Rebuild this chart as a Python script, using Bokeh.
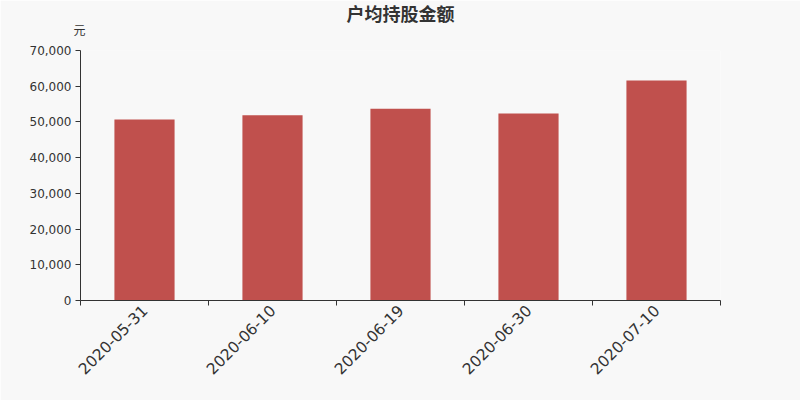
from math import pi
from bokeh.plotting import figure
from bokeh.models import (FactorRange, Range1d, LinearAxis, FixedTicker,
                          CustomJSTickFormatter, NumeralTickFormatter, Title,
                          ColumnDataSource)
from bokeh.embed import file_html
from bokeh.resources import INLINE

# ---- data ----
dates = ["2020-05-31", "2020-06-10", "2020-06-19", "2020-06-30", "2020-07-10"]
amounts = [50680, 51890, 53670, 52360, 61600]
y_ticks = [0, 10000, 20000, 30000, 40000, 50000, 60000, 70000]
title_text = "户均持股金额"
unit_text = "元"

BG = "#f8f8f8"
BAR = "#c0504d"
TXT = "#333333"
CJK = "Noto Sans CJK SC"
LAT = "DejaVu Sans"

src = ColumnDataSource(dict(date=dates, amount=amounts))

p = figure(width=800, height=400,
           x_range=FactorRange(factors=dates),
           y_range=Range1d(y_ticks[0], y_ticks[-1]),
           x_axis_type=None,
           output_backend="svg", toolbar_location=None,
           min_border_left=80, min_border_right=80,
           min_border_top=50, min_border_bottom=100)

p.background_fill_color = BG
p.border_fill_color = BG
p.outline_line_color = None
p.grid.visible = False

p.vbar(x="date", top="amount", width=0.47, source=src,
       fill_color=BAR, line_color=None)

# y axis
ya = p.yaxis[0]
ya.ticker = FixedTicker(ticks=y_ticks, minor_ticks=[])
ya.formatter = NumeralTickFormatter(format="0,0")
ya.axis_line_color = TXT
ya.major_tick_line_color = TXT
ya.major_tick_in = 0
ya.major_tick_out = 5
ya.minor_tick_line_color = None
ya.major_label_text_font = LAT
ya.major_label_text_font_size = "12px"
ya.major_label_text_color = TXT
ya.major_label_standoff = 4

# x axis: labels at category centres, tick marks at boundaries
n = len(dates)
xa = LinearAxis(
    ticker=FixedTicker(ticks=[i + 0.5 for i in range(n)],
                       minor_ticks=[float(i) for i in range(n + 1)]),
    formatter=CustomJSTickFormatter(args=dict(labels=dates),
                                    code="const i = Math.floor(tick); return labels[i] !== undefined ? labels[i] : '';"),
)
xa.axis_line_color = TXT
xa.major_tick_out = 0
xa.major_tick_in = 0
xa.minor_tick_line_color = TXT
xa.minor_tick_out = 5
xa.minor_tick_in = 0
xa.major_label_orientation = pi / 4
xa.major_label_text_font = LAT
xa.major_label_text_font_size = "15.5px"
xa.major_label_text_color = TXT
xa.major_label_standoff = 2
p.add_layout(xa, "below")

# main title (top) and unit (nearest the frame)
p.title = Title(text=title_text, align="center", standoff=-41,
                text_font=CJK, text_font_size="18px", text_font_style="bold",
                text_color=TXT)
p.add_layout(Title(text=unit_text, align="left", offset=-7, standoff=26,
                   text_font=CJK, text_font_size="12px", text_font_style="normal",
                   text_color=TXT), "above")

open("out.html", "w").write(file_html(p, INLINE))
